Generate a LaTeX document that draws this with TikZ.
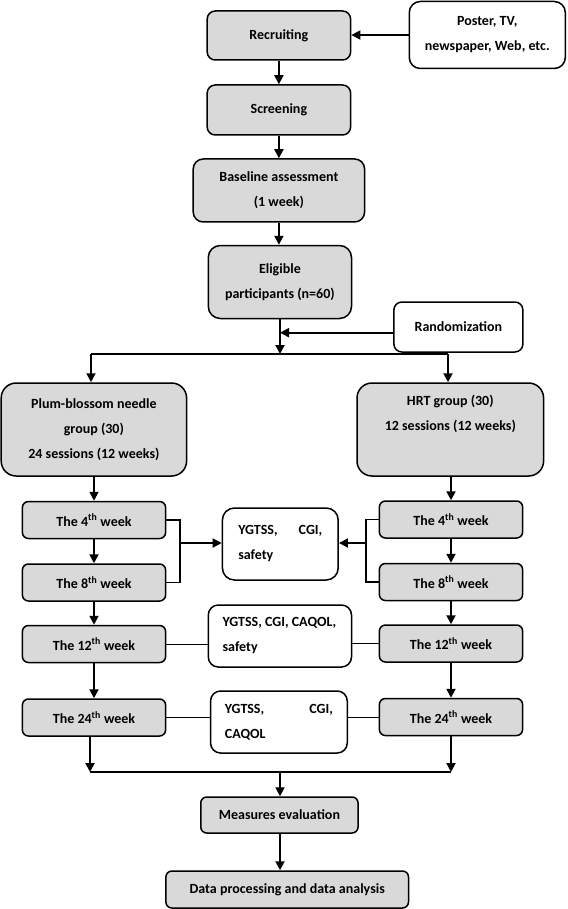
\documentclass[tikz,border=0pt]{standalone}
\usepackage{fontspec}
\setmainfont{Carlito}
\usetikzlibrary{arrows.meta}
\definecolor{boxgray}{RGB}{217,217,217}
\begin{document}
\begin{tikzpicture}[x=1pt,y=-1pt,
  boxbase/.style={draw, line width=1.5pt, rounded corners=8pt, align=center, inner sep=0pt,
    font=\bfseries\fontsize{14}{25}\selectfont},
  gbox/.style={boxbase, fill=boxgray},
  wbox/.style={boxbase, fill=white},
  weekbox/.style={gbox, minimum width=143.2pt, minimum height=37pt, rounded corners=6pt},
  arr/.style={line width=1.9pt, -{Triangle[length=9pt,width=9pt]}},
  ln/.style={line width=1.9pt},
  bline/.style={line width=1.4pt},
  thinln/.style={line width=1pt}]
\useasboundingbox (0,0) rectangle (567,909);

\node[gbox, minimum width=143.4pt, minimum height=49pt] (rec) at (278.9,35.5) {Recruiting};
\node[wbox, minimum width=156pt, minimum height=67pt, rounded corners=11pt] (poster) at (487.3,35) {Poster, TV,\\newspaper, Web, etc.};
\node[gbox, minimum width=143.4pt, minimum height=50pt] (scr) at (278.9,110) {Screening};
\node[gbox, minimum width=171.4pt, minimum height=63pt, rounded corners=10pt] (bas) at (278.9,190.5) {Baseline assessment\\(1 week)};
\node[gbox, minimum width=143.2pt, minimum height=73pt, rounded corners=12pt] (elig) at (279.9,282) {Eligible\\participants (n=60)};
\node[wbox, minimum width=129pt, minimum height=50pt] (rand) at (458.4,327) {Randomization};
\node[gbox, minimum width=185.4pt, minimum height=93pt, rounded corners=15pt] (plum) at (93.9,429.5) {Plum-blossom needle\\group (30)\\24 sessions (12 weeks)};
\node[gbox, minimum width=186.6pt, minimum height=93pt, rounded corners=15pt] (hrt) at (450.3,429.5) {HRT group (30)\\12 sessions (12 weeks)\\\strut};

\node[weekbox] (w4L) at (94,520) {The 4\textsuperscript{th} week};
\node[weekbox] (w8L) at (94,582.5) {The 8\textsuperscript{th} week};
\node[weekbox] (w12L) at (94,644) {The 12\textsuperscript{th} week};
\node[weekbox] (w24L) at (94,717.5) {The 24\textsuperscript{th} week};
\node[weekbox] (w4R) at (451,519.5) {The 4\textsuperscript{th} week};
\node[weekbox] (w8R) at (451,582) {The 8\textsuperscript{th} week};
\node[weekbox] (w12R) at (451,643.5) {The 12\textsuperscript{th} week};
\node[weekbox] (w24R) at (451,717) {The 24\textsuperscript{th} week};

\node[wbox, minimum width=115.8pt, minimum height=72pt, rounded corners=12pt, align=left] (y1) at (280.3,544)
  {\makebox[84pt]{YGTSS,\hfill CGI,}\\\makebox[84pt][l]{safety}};
\node[wbox, minimum width=143.2pt, minimum height=62pt, rounded corners=10pt, align=left] (y2) at (279.9,636)
  {\makebox[114.6pt][l]{YGTSS, CGI, CAQOL,}\\\makebox[114.6pt][l]{safety}};
\node[wbox, minimum width=136.7pt, minimum height=62pt, rounded corners=10pt, align=left] (y3) at (278.9,722)
  {\makebox[108pt]{YGTSS,\hfill CGI,}\\\makebox[108pt][l]{CAQOL}};

\node[gbox, minimum width=157.3pt, minimum height=36pt, rounded corners=6pt] (meas) at (279.4,815) {Measures evaluation};
\node[gbox, minimum width=242.6pt, minimum height=37pt, rounded corners=6pt] (data) at (287.2,889.5) {Data processing and data analysis};

% top chain
\draw[arr] (poster.west) -- (poster.west -| rec.east);
\draw[arr] (rec) -- (scr);
\draw[arr] (scr) -- (bas);
\draw[arr] (bas.south) -- (bas.south |- elig.north);

% randomization split
\coordinate (split) at (280,354);
\coordinate (rj) at (280,332.7);
\coordinate (sl) at (91,354);
\coordinate (sr) at (448,354);
\draw[arr] (elig.south -| split) -- (split);
\draw[arr] (rand.west |- rj) -- (rj);
\draw[ln] (sl) -- (sr);
\draw[arr] (sl) -- (sl |- plum.north);
\draw[arr] (sr) -- (sr |- hrt.north);

% left column
\draw[arr] (w4L.north |- plum.south) -- (w4L.north);
\draw[arr] (w4L) -- (w8L);
\draw[arr] (w8L) -- (w12L);
\draw[arr] (w12L) -- (w24L);
% right column
\draw[arr] (w4R.north |- hrt.south) -- (w4R.north);
\draw[arr] (w4R) -- (w8R);
\draw[arr] (w8R) -- (w12R);
\draw[arr] (w12R) -- (w24R);

% brackets to first assessment box
\coordinate (bl) at (180,543);
\coordinate (br) at (366,543);
\draw[bline] (w4L.east) -- (w4L.east -| bl) -- (w8L.east -| bl) -- (w8L.east);
\draw[arr] (bl) -- (bl -| y1.west);
\draw[bline] (w4R.west) -- (w4R.west -| br) -- (w8R.west -| br) -- (w8R.west);
\draw[arr] (br) -- (br -| y1.east);

% thin connectors
\draw[thinln] (w12L.east) -- (w12L.east -| y2.west);
\draw[thinln] (y2.east |- w12R.west) -- (w12R.west);
\draw[thinln] (w24L.east) -- (w24L.east -| y3.west);
\draw[thinln] (y3.east |- w24R.west) -- (w24R.west);

% merge
\coordinate (jl) at (90,772);
\coordinate (jr) at (451,772);
\coordinate (jm) at (280,772);
\draw[arr] (jl |- w24L.south) -- (jl);
\draw[arr] (jr |- w24R.south) -- (jr);
\draw[ln] (jl) -- (jr);
\draw[arr] (jm) -- (jm |- meas.north);
\draw[arr] (jm |- meas.south) -- (jm |- data.north);
\end{tikzpicture}
\end{document}
